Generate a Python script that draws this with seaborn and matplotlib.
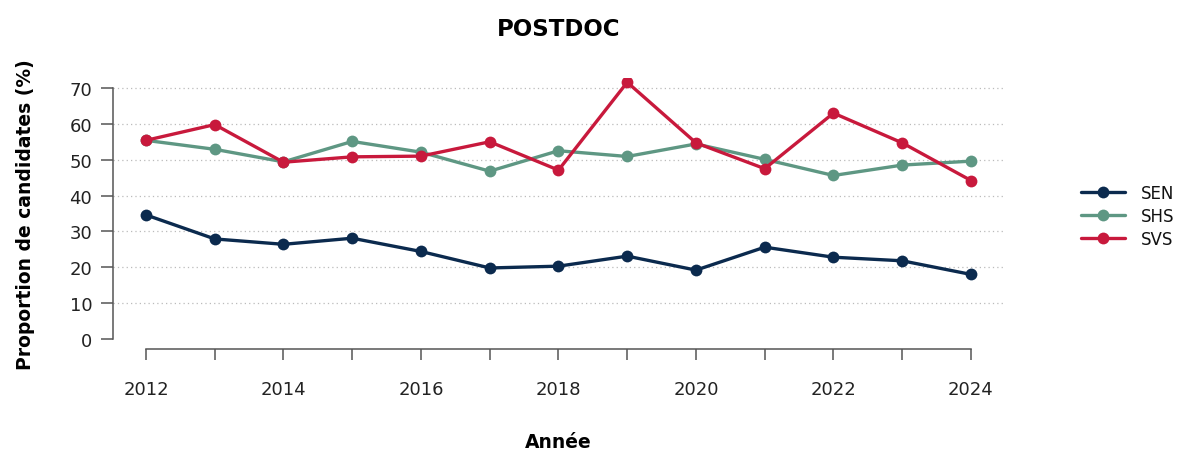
import pandas as pd
import matplotlib
matplotlib.use("Agg")
import matplotlib.pyplot as plt
import seaborn as sns

# ---------------------------------------------------------------------------
# Data
# ---------------------------------------------------------------------------
years = list(range(2012, 2025))
groups = ["SEN", "SHS", "SVS"]
sen = [34.6, 27.9, 26.4, 28.1, 24.4, 19.8, 20.3, 23.1, 19.2, 25.6, 22.8, 21.8, 18.0]
shs = [55.4, 52.9, 49.4, 55.1, 52.1, 46.8, 52.5, 50.9, 54.4, 50.1, 45.6, 48.5, 49.6]
svs = [55.4, 59.8, 49.3, 50.8, 51.0, 55.0, 47.1, 71.6, 54.7, 47.5, 63.0, 54.7, 44.2]
colors = {"SEN": "#0b2a4e", "SHS": "#5e9783", "SVS": "#c8193c"}
y_ticks = [0, 10, 20, 30, 40, 50, 60, 70]

df = pd.DataFrame({
    "annee": years * 3,
    "valeur": sen + shs + svs,
    "groupe": [g for g in groups for _ in years],
})

# ---------------------------------------------------------------------------
# Plot
# ---------------------------------------------------------------------------
sns.set_style("white")
plt.rcParams["font.family"] = ["DejaVu Sans"]

fig = plt.figure(figsize=(11.88, 4.56), dpi=100)
ax = fig.add_axes([0.0951, 0.2325, 0.7500, 0.5943])

for y in y_ticks[1:]:
    ax.axhline(y, color="#bbbbbb", linestyle=(0, (1, 2.5)), linewidth=0.9, zorder=0)

sns.lineplot(
    data=df, x="annee", y="valeur", hue="groupe", hue_order=groups,
    palette=colors, marker="o", markersize=8.5, markeredgewidth=0,
    linewidth=2.4, ax=ax,
)

ax.set_xlim(2011.52, 2024.48)
ax.set_ylim(-2.8, 72.8)
ax.set_xticks(years)
ax.set_xticklabels([str(y) if y % 2 == 0 else "" for y in years])
ax.set_yticks(y_ticks)

for side in ["top", "right"]:
    ax.spines[side].set_visible(False)
ax.spines["left"].set_bounds(0, 70)
ax.spines["bottom"].set_bounds(2012, 2024)
for side in ["left", "bottom"]:
    ax.spines[side].set_color("#555555")
    ax.spines[side].set_linewidth(1.1)

ax.tick_params(axis="x", bottom=True, direction="out", length=8, width=1.1,
               color="#555555", pad=14, labelsize=13, labelcolor="#222222")
ax.tick_params(axis="y", left=True, direction="out", length=9, width=1.1,
               color="#555555", pad=6, labelsize=13, labelcolor="#222222")

ax.set_title("POSTDOC", fontsize=16.5, fontweight="bold", pad=31, color="black")
ax.set_xlabel("Année", fontsize=13.5, fontweight="bold", labelpad=25, color="black")
ax.set_ylabel("Proportion de candidates (%)", fontsize=13.5, fontweight="bold",
              labelpad=25, color="black")

leg = ax.legend(loc="center left", bbox_to_anchor=(1.07, 0.49), frameon=False,
                fontsize=12, handlelength=2.6, handletextpad=1.0, labelspacing=0.3,
                title=None)
for t in leg.get_texts():
    t.set_color("#111111")

fig.savefig("out.png", dpi=100)
plt.close(fig)
